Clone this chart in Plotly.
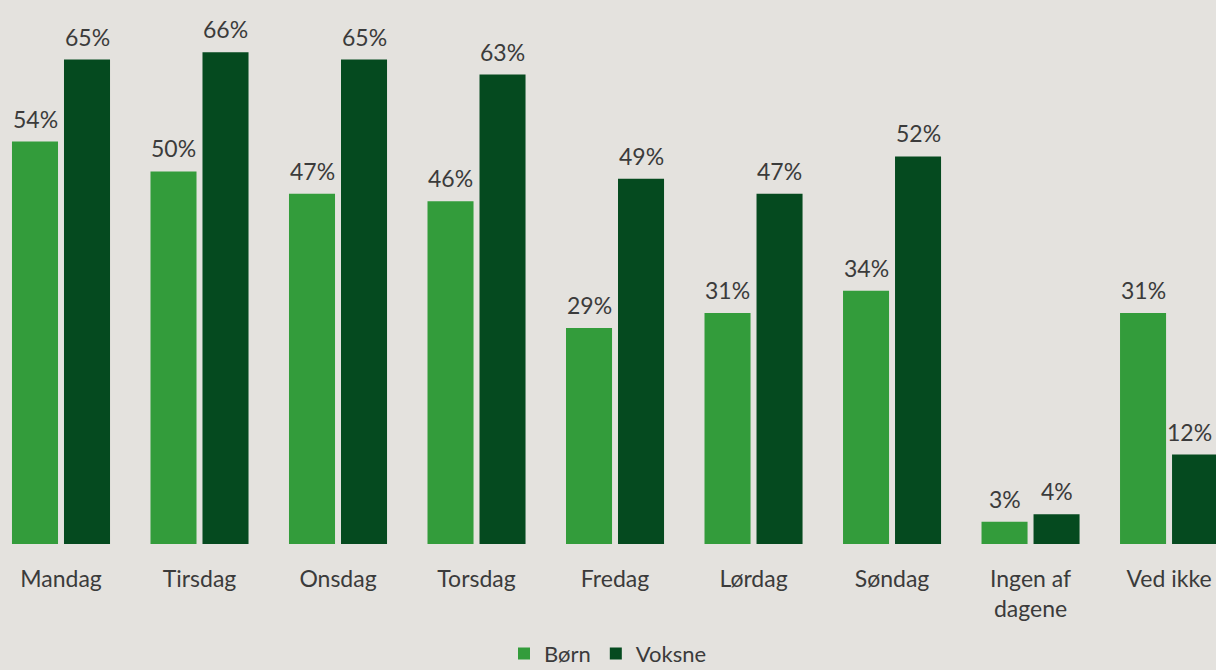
import plotly.graph_objects as go

categories = ["Mandag", "Tirsdag", "Onsdag", "Torsdag", "Fredag", "Lørdag", "Søndag",
              "Ingen af<br>dagene", "Ved ikke"]
born = [54, 50, 47, 46, 29, 31, 34, 3, 31]
voksne = [65, 66, 65, 63, 49, 47, 52, 4, 12]

BG = "#e4e2de"
LIGHT = "#339c3b"
DARK = "#054a1f"
TEXT = "#3b3b3b"
FONT = "Source Sans Pro, Lato, Noto Sans, sans-serif"
SIZE = 23

fig = go.Figure()
fig.add_bar(name="Børn", x=categories, y=born, marker_color=LIGHT, marker_line_width=0)
fig.add_bar(name="Voksne", x=categories, y=voksne, marker_color=DARK, marker_line_width=0)

annotations = []
last = len(categories) - 1
for series, shift in ((born, -26), (voksne, 26)):
    for i, (cat, val) in enumerate(zip(categories, series)):
        # keep the right-most label inside the page edge
        xs = 20 if (i == last and shift > 0) else shift
        annotations.append(dict(
            x=cat, y=val, xref="x", yref="y", text=f"{val}%", showarrow=False,
            xanchor="center", yanchor="bottom", xshift=xs, yshift=7,
            font=dict(family=FONT, size=SIZE, color=TEXT)))

fig.update_layout(
    width=1216, height=670,
    paper_bgcolor=BG, plot_bgcolor=BG,
    margin=dict(l=0, r=0, t=0, b=126, autoexpand=False),
    barmode="group", bargap=0.249, bargroupgap=0.115,
    font=dict(family=FONT, size=SIZE, color=TEXT),
    showlegend=True,
    legend=dict(orientation="h", x=0.5, xanchor="center", y=-0.163, yanchor="top",
                font=dict(family=FONT, size=22, color=TEXT), itemwidth=30,
                bgcolor="rgba(0,0,0,0)"),
    annotations=annotations,
)
fig.update_xaxes(range=[-0.4404, 8.339], showgrid=False, showline=False, zeroline=False,
                 automargin=False,
                 ticks="outside", ticklen=14, tickcolor=BG,
                 tickfont=dict(family=FONT, size=SIZE, color=TEXT))
fig.update_yaxes(range=[0, 73], visible=False, showgrid=False, zeroline=False)

fig.write_html("out.html")
